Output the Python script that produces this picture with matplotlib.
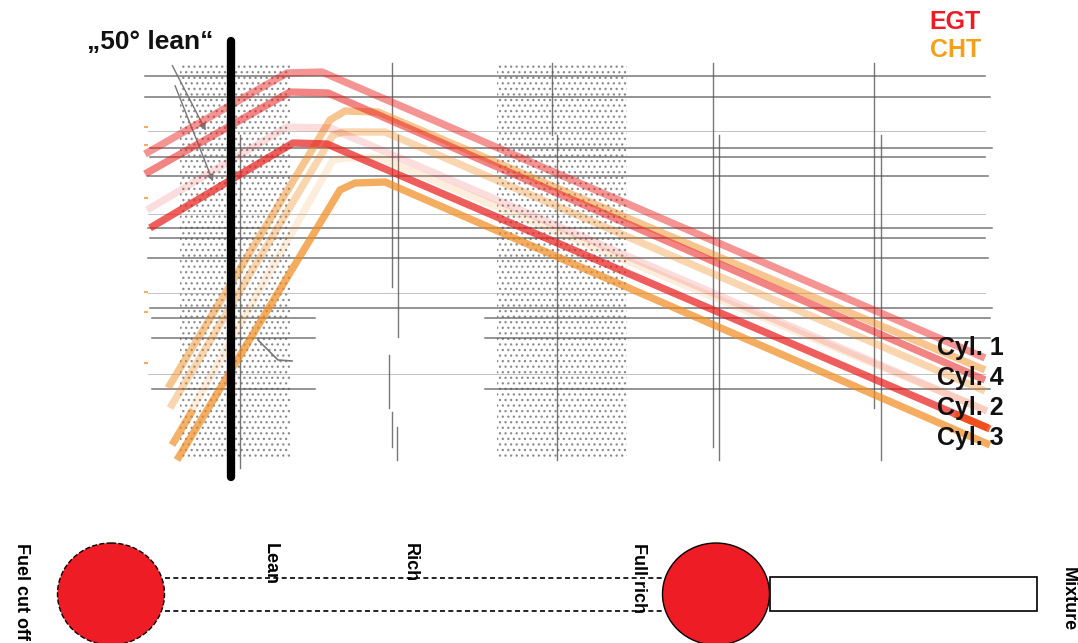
import numpy as np
import matplotlib.pyplot as plt
from matplotlib.patches import Rectangle, Ellipse

# canvas is the scanned page, in pixel units (y grows downward)
W, H = 1078, 643

# EGT curves (x, y vertices), Cyl. 1 / 4 / faint / 2
egt_x = [[145, 287, 322, 985],
         [145, 290, 328, 985],
         [147, 287, 330, 987],
         [150, 293, 327, 988]]
egt_y = [[154, 73, 72, 358],
         [174, 92, 93, 380],
         [210, 127, 128, 411],
         [228, 143, 144, 428]]
egt_alpha = [0.48, 0.55, 0.15, 0.72]

# CHT curves
cht_x = [[168, 330, 345, 378, 985],
         [170, 333, 343, 385, 985],
         [172, 333, 345, 380, 987],
         [177, 340, 355, 385, 990]]
cht_y = [[388, 120, 111, 112, 370],
         [408, 135, 132, 132, 391],
         [445, 160, 158, 158, 411],
         [460, 190, 183, 182, 445]]
cht_alpha = [0.49, 0.35, 0.15, 0.70]

# short leftover pieces on the scan
stub_x = [172, 193]
stub_y = [445, 410]
tip_x = [955, 990]
tip_y = [414, 429]

# scanned grid
hline_y = [76, 97, 148, 157, 176, 228, 238, 258, 308]
hline_x0 = [145, 145, 150, 150, 148, 148, 150, 148, 150]
hline_x1 = [985, 990, 992, 985, 988, 992, 985, 988, 992]
faint_y = [131, 214, 293, 374]
split_y = [318, 338, 389]
split_left = [152, 315]
split_right = [485, 990]

vline_x = [392, 398, 389, 392, 397, 240, 552, 557, 713, 719, 874, 881]
vline_y0 = [63, 135, 355, 412, 427, 135, 63, 135, 63, 135, 63, 135]
vline_y1 = [287, 337, 408, 447, 460, 468, 135, 460, 447, 460, 408, 460]

stipple_x = [180, 497]
stipple_w = [110, 130]
stipple_top, stipple_bottom = 63, 460

orange_ticks_y = [127, 145, 198, 292, 312, 363]

cyl_labels = ['Cyl. 1', 'Cyl. 4', 'Cyl. 2', 'Cyl. 3']
cyl_y = [348, 378, 408, 438]

# mixture control sketch
knob_x = [111, 716]
knob_y = 594
knob_w, knob_h = 107, 102
slot_x = [165, 663]
slot_y = [578, 611]
rod = (770, 577, 267, 34)
lever_labels = ['Fuel cut off', 'Lean', 'Rich', 'Full rich', 'Mixture']
lever_x = [21, 270, 410, 638, 1068]
lever_top = [543, 543, 543, 543, 567]

RED = '#E8201E'
ORANGE = '#F08A1C'
FONT = 'Liberation Sans'

fig = plt.figure(figsize=(W / 100, H / 100), dpi=100)
ax = fig.add_axes([0, 0, 1, 1])
ax.set_xlim(0, W)
ax.set_ylim(H, 0)
ax.axis('off')

# stippled bands
plt.rcParams['hatch.linewidth'] = 0.9
for x0, w in zip(stipple_x, stipple_w):
    ax.add_patch(Rectangle((x0, stipple_top), w, stipple_bottom - stipple_top,
                           facecolor='none', edgecolor='#8c8c8c', hatch='...',
                           linewidth=0, zorder=1))

# grid lines
for y, x0, x1 in zip(hline_y, hline_x0, hline_x1):
    ax.plot([x0, x1], [y, y], color='#555555', lw=1.1, alpha=0.8, zorder=2)
for y in faint_y:
    ax.plot([148, 985], [y, y], color='#999999', lw=0.7, alpha=0.6, zorder=2)
for y in split_y:
    ax.plot(split_left, [y, y], color='#555555', lw=1.1, alpha=0.8, zorder=2)
    ax.plot(split_right, [y, y], color='#555555', lw=1.1, alpha=0.8, zorder=2)
for x, y0, y1 in zip(vline_x, vline_y0, vline_y1):
    ax.plot([x, x], [y0, y1], color='#555555', lw=1.0, alpha=0.8, zorder=2)

# pencil arrows on the scan
ax.annotate('', xy=(207, 133), xytext=(171, 63),
            arrowprops=dict(arrowstyle='-|>', color='#777777', lw=1.0), zorder=2)
ax.annotate('', xy=(214, 184), xytext=(174, 83),
            arrowprops=dict(arrowstyle='-|>', color='#777777', lw=1.0), zorder=2)
ax.plot([258, 268, 278, 292], [340, 350, 360, 361], color='#777777', lw=1.2, zorder=2)

ax.scatter([146] * len(orange_ticks_y), orange_ticks_y, marker='_', s=10,
           color=ORANGE, alpha=0.7, zorder=2)

# temperature curves
for xs, ys, a in zip(cht_x, cht_y, cht_alpha):
    ax.plot(xs, ys, color=ORANGE, alpha=a, lw=5.3, solid_joinstyle='round',
            solid_capstyle='butt', zorder=3)
for xs, ys, a in zip(egt_x, egt_y, egt_alpha):
    ax.plot(xs, ys, color=RED, alpha=a, lw=5.3, solid_joinstyle='round',
            solid_capstyle='butt', zorder=3)
ax.plot(stub_x, stub_y, color=ORANGE, alpha=0.6, lw=5.3, solid_capstyle='butt', zorder=3)
ax.plot(tip_x, tip_y, color='#F04A10', alpha=0.8, lw=5.3, solid_capstyle='butt', zorder=3)

# 50 deg lean marker
ax.plot([231, 231], [41, 477], color='black', lw=6, solid_capstyle='round', zorder=5)
ax.text(87, 42, '\u201e50\u00b0 lean\u201c', fontsize=19, fontweight='bold',
        family=FONT, ha='left', va='center', color='#111111')

ax.text(981, 22, 'EGT', fontsize=18, fontweight='bold', family=FONT,
        ha='right', va='center', color='#ED1C24')
ax.text(981, 50, 'CHT', fontsize=18, fontweight='bold', family=FONT,
        ha='right', va='center', color='#F5A01A')

for lab, y in zip(cyl_labels, cyl_y):
    ax.text(937, y, lab, fontsize=18, fontweight='bold', family=FONT,
            ha='left', va='center', color='#111111', zorder=6)

# mixture lever sketch
for y in slot_y:
    ax.plot(slot_x, [y, y], color='black', lw=1.2, ls=(0, (3, 2)), zorder=4)
ax.add_patch(Rectangle(rod[:2], rod[2], rod[3], facecolor='white',
                       edgecolor='black', lw=1.2, zorder=4))
ax.add_patch(Ellipse((knob_x[0], knob_y), knob_w, knob_h, facecolor='#EE1C24',
                     edgecolor='black', lw=1.0, ls='--', zorder=5))
ax.add_patch(Ellipse((knob_x[1], knob_y), knob_w, knob_h, facecolor='#EE1C24',
                     edgecolor='black', lw=1.0, zorder=5))
for lab, x, y in zip(lever_labels, lever_x, lever_top):
    ax.text(x, y, lab, rotation=-90, fontsize=13, fontweight='bold',
            family=FONT, ha='center', va='top', color='black', zorder=6)

fig.savefig('out.png', dpi=100)
